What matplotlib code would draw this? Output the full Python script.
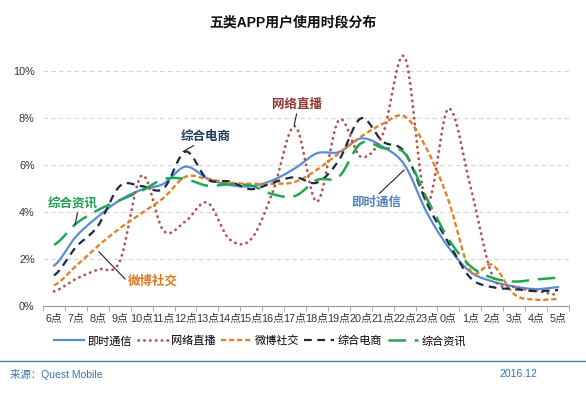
import numpy as np
import matplotlib
matplotlib.use('Agg')
import matplotlib.pyplot as plt
from matplotlib.lines import Line2D

plt.rcParams['font.family'] = ['Liberation Sans', 'Noto Sans CJK SC', 'DejaVu Sans']

hours = ['6点', '7点', '8点', '9点', '10点', '11点', '12点', '13点', '14点', '15点', '16点', '17点',
         '18点', '19点', '20点', '21点', '22点', '23点', '0点', '1点', '2点', '3点', '4点', '5点']

# 单位: %
im = [1.72, 2.95, 3.8, 4.5, 4.95, 5.2, 5.93, 5.43, 5.15, 5.1, 5.36, 5.86,
      6.5, 6.55, 7.13, 6.78, 6.0, 4.0, 2.5, 1.45, 1.05, 0.83, 0.72, 0.8]
live = [0.62, 1.15, 1.55, 1.9, 5.55, 3.2, 3.6, 4.4, 2.85, 2.85, 4.9, 7.65,
        4.44, 7.91, 6.35, 7.3, 10.6, 4.4, 8.4, 5.1, 1.3, 0.8, 0.65, 0.47]
social = [0.88, 1.7, 2.55, 3.3, 3.95, 4.6, 5.5, 5.4, 5.25, 5.2, 5.2, 5.28,
          5.8, 6.5, 7.2, 7.75, 8.07, 6.7, 4.5, 1.5, 1.75, 0.5, 0.27, 0.3]
ecom = [1.3, 2.5, 3.4, 5.1, 5.1, 5.0, 6.57, 5.39, 5.3, 4.97, 5.25, 5.48,
        5.25, 6.2, 7.98, 7.0, 6.55, 4.4, 2.7, 1.2, 0.8, 0.72, 0.63, 0.68]
news = [2.6, 3.5, 4.08, 4.5, 4.9, 5.4, 5.4, 5.12, 5.18, 5.12, 4.75, 4.68,
        5.36, 5.5, 6.92, 6.72, 6.5, 4.6, 2.85, 1.7, 1.2, 1.04, 1.13, 1.2]

names = ['即时通信', '网络直播', '微博社交', '综合电商', '综合资讯']
colors = ['#5A8BD3', '#B0504F', '#E3812A', '#1B2A41', '#22A650']
styles = ['-', (0, (0.1, 2.0)), (0, (2.2, 1.2)), (0, (3.5, 2.5)), (0, (7, 3.5))]
widths = [1.6, 2.0, 1.7, 1.6, 1.8]


def smooth(y, n=24):
    # excel 风格的平滑曲线 (catmull-rom)
    y = np.asarray(y, float)
    p = np.concatenate([[y[0]], y, [y[-1]]])
    xs, ys = [], []
    t = np.linspace(0, 1, n, endpoint=False)
    for i in range(len(y) - 1):
        p0, p1, p2, p3 = p[i], p[i + 1], p[i + 2], p[i + 3]
        v = 0.5 * (2 * p1 + (p2 - p0) * t + (2 * p0 - 5 * p1 + 4 * p2 - p3) * t ** 2
                   + (3 * p1 - p0 - 3 * p2 + p3) * t ** 3)
        xs.append(i + t)
        ys.append(v)
    xs.append([len(y) - 1])
    ys.append([y[-1]])
    return np.concatenate(xs), np.concatenate(ys)


fig = plt.figure(figsize=(5.86, 3.95), dpi=100)
ax = fig.add_axes([43 / 586, 1 - 306 / 395, 526 / 586, (306 - 47.5) / 395])

for data, c, ls, lw in zip([im, live, social, ecom, news], colors, styles, widths):
    x, y = smooth(data)
    ax.plot(x, y, color=c, linestyle=ls, linewidth=lw, dash_capstyle='round' if ls == styles[1] else 'butt')

ax.set_xlim(-0.5, len(hours) - 0.5)
ax.set_ylim(0, 11)
ax.set_xticks(range(len(hours)))
ax.set_xticklabels(hours, fontsize=7.8, color='#333333')
ax.set_xticks(np.arange(len(hours) + 1) - 0.5, minor=True)
ax.tick_params(axis='x', which='major', length=0, pad=6)
ax.tick_params(axis='x', which='minor', length=3.5, color='#999999', direction='out')
ax.set_yticks([0, 2, 4, 6, 8, 10])
ax.set_yticklabels(['0%', '2%', '4%', '6%', '8%', '10%'], fontsize=7.8, color='#333333')
ax.tick_params(axis='y', length=0, pad=6)
for v in [2, 4, 6, 8, 10]:
    ax.axhline(v, color='#D4D4D4', linewidth=0.8, linestyle=(0, (4, 3)), zorder=0)
for s in ['top', 'right', 'left']:
    ax.spines[s].set_visible(False)
ax.spines['bottom'].set_color('#999999')

# 标注
arrow = dict(arrowstyle='-', color='#222222', linewidth=0.8, shrinkA=0, shrinkB=0)
ax.annotate('网络直播', xy=(10.96, 7.7), xytext=(11.1, 8.55), ha='center', va='center',
            fontsize=9, fontweight='bold', color='#953735', arrowprops=dict(arrow, relpos=(0.5, 0)))
ax.annotate('综合电商', xy=(5.89, 6.57), xytext=(6.94, 7.2), ha='center', va='center',
            fontsize=9, fontweight='bold', color='#1F3A5F', arrowprops=dict(arrow, relpos=(0.35, 0)))
ax.annotate('综合资讯', xy=(0.96, 3.45), xytext=(0.87, 4.34), ha='center', va='center',
            fontsize=9, fontweight='bold', color='#1E9E4A', arrowprops=dict(arrow, relpos=(0.6, 0)))
ax.annotate('微博社交', xy=(2.05, 2.31), xytext=(4.52, 1.02), ha='center', va='center',
            fontsize=9, fontweight='bold', color='#E07820', arrowprops=dict(arrow, relpos=(0, 0.5)))
ax.annotate('即时通信', xy=(15.98, 5.79), xytext=(14.7, 4.4), ha='center', va='center',
            fontsize=9, fontweight='bold', color='#4F81BD', arrowprops=dict(arrow, relpos=(0.5, 1)))

fig.text(293 / 586, 1 - 22 / 395, '五类APP用户使用时段分布', ha='center', va='center',
         fontsize=10, fontweight='bold', color='#111111')

handles = [Line2D([], [], color=c, linestyle=ls, linewidth=lw,
                  dash_capstyle='round' if ls == styles[1] else 'butt')
           for c, ls, lw in zip(colors, styles, widths)]
fig.legend(handles, names, loc='center', bbox_to_anchor=(260 / 586, 1 - 341 / 395), ncol=5,
           frameon=False, fontsize=8, handlelength=2.7, columnspacing=0.5, handletextpad=0.3)

fig.add_artist(Line2D([0, 1], [1 - 361 / 395, 1 - 361 / 395], color='#4A7FA8', linewidth=1.0))
fig.text(10 / 586, 1 - 374 / 395, '来源：Quest Mobile', ha='left', va='center', fontsize=7.5, color='#2E75B6')
fig.text(537 / 586, 1 - 374 / 395, '2016.12', ha='right', va='center', fontsize=7.5, color='#2E75B6')

fig.savefig('out.png', dpi=100)
